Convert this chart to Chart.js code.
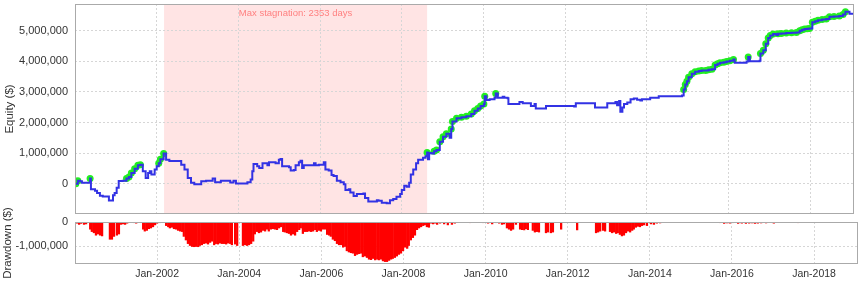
<!DOCTYPE html>
<html lang="en">
<head>
<meta charset="UTF-8">
<title>Equity and Drawdown</title>
<style>
  body { margin: 0; background: #fff; }
  #wrap { position: relative; width: 858px; height: 285px; }
  #equityChart { position: absolute; left: 0; top: 0; }
  #ddChart { position: absolute; left: 0; top: 200px; }
</style>
</head>
<body>
<div id="wrap">
  <canvas id="equityChart" width="858" height="218"></canvas>
  <canvas id="ddChart" width="858" height="85"></canvas>
</div>

<script src="https://cdn.jsdelivr.net/npm/chart.js"></script>
<script>
  // equity curve (decimal years, dollars)
  const eqYears = [
    2000.02, 2000.07, 2000.12, 2000.17, 2000.29, 2000.37, 2000.39, 2000.49, 2000.54, 2000.61,
    2000.68, 2000.80, 2000.83, 2000.92, 2000.93, 2000.97, 2001.02, 2001.07, 2001.17, 2001.26,
    2001.32, 2001.38, 2001.46, 2001.54, 2001.60, 2001.66, 2001.73, 2001.79, 2001.83, 2001.87,
    2001.95, 2002.00, 2002.05, 2002.09, 2002.17, 2002.23, 2002.31, 2002.48, 2002.60, 2002.68,
    2002.76, 2002.84, 2002.92, 2003.00, 2003.09, 2003.21, 2003.37, 2003.43, 2003.57, 2003.73,
    2003.80, 2003.88, 2003.94, 2004.14, 2004.22, 2004.30, 2004.34, 2004.37, 2004.46, 2004.51,
    2004.59, 2004.71, 2004.75, 2004.87, 2004.91, 2004.99, 2005.03, 2005.07, 2005.24, 2005.28,
    2005.36, 2005.40, 2005.48, 2005.52, 2005.56, 2005.60, 2005.80, 2005.85, 2005.89, 2005.97,
    2006.09, 2006.13, 2006.21, 2006.28, 2006.33, 2006.41, 2006.50, 2006.58, 2006.62, 2006.70,
    2006.74, 2006.82, 2006.90, 2007.06, 2007.10, 2007.18, 2007.31, 2007.39, 2007.43, 2007.51,
    2007.63, 2007.71, 2007.79, 2007.87, 2007.96, 2008.00, 2008.06, 2008.12, 2008.18, 2008.22,
    2008.28, 2008.35, 2008.40, 2008.52, 2008.58, 2008.62, 2008.64, 2008.67, 2008.73, 2008.79,
    2008.85, 2008.93, 2009.01, 2009.09, 2009.17, 2009.21, 2009.24, 2009.34, 2009.46, 2009.58,
    2009.70, 2009.78, 2009.86, 2009.93, 2010.01, 2010.03, 2010.07, 2010.15, 2010.27, 2010.30,
    2010.35, 2010.47, 2010.51, 2010.59, 2010.61, 2010.84, 2010.88, 2010.96, 2011.08, 2011.16,
    2011.25, 2011.28, 2011.49, 2011.53, 2012.22, 2012.26, 2012.71, 2012.73, 2012.99, 2013.03,
    2013.19, 2013.23, 2013.27, 2013.32, 2013.35, 2013.40, 2013.44, 2013.52, 2013.60, 2013.68,
    2013.76, 2013.84, 2013.88, 2014.08, 2014.29, 2014.86, 2014.90, 2014.94, 2014.98, 2015.02,
    2015.10, 2015.18, 2015.27, 2015.34, 2015.44, 2015.51, 2015.59, 2015.67, 2015.73, 2015.79,
    2015.88, 2015.95, 2016.03, 2016.12, 2016.15, 2016.44, 2016.48, 2016.52, 2016.76, 2016.78,
    2016.85, 2016.91, 2016.97, 2017.02, 2017.09, 2017.17, 2017.21, 2017.29, 2017.41, 2017.54,
    2017.66, 2017.74, 2017.80, 2017.86, 2017.93, 2017.98, 2018.05, 2018.12, 2018.19, 2018.29,
    2018.39, 2018.47, 2018.58, 2018.71, 2018.80, 2018.86, 2018.96, 2019.04
  ];
  const eqValues = [
    0, 100000, 80000, 30000, 30000, 170000, -180000, -230000, -300000, -390000,
    -420000, -420000, -550000, -550000, -380000, -300000, -130000, 90000, 100000, 170000,
    220000, 350000, 490000, 600000, 620000, 410000, 190000, 350000, 410000, 300000,
    460000, 570000, 670000, 800000, 990000, 780000, 740000, 740000, 620000, 460000,
    190000, 30000, -20000, -20000, 80000, 100000, 170000, 50000, 100000, 100000,
    40000, 100000, 10000, 10000, 50000, 140000, 410000, 640000, 570000, 510000,
    670000, 600000, 700000, 700000, 670000, 780000, 810000, 570000, 540000, 430000,
    450000, 600000, 700000, 750000, 510000, 600000, 600000, 670000, 600000, 620000,
    700000, 460000, 430000, 280000, 250000, 100000, 50000, -20000, -210000, -180000,
    -290000, -400000, -340000, -320000, -470000, -580000, -580000, -540000, -560000, -620000,
    -640000, -540000, -500000, -430000, -340000, -210000, -70000, -100000, 30000, 300000,
    460000, 670000, 780000, 850000, 900000, 1020000, 800000, 1000000, 990000, 1060000,
    1100000, 1370000, 1530000, 1630000, 1500000, 1790000, 2030000, 2140000, 2170000, 2200000,
    2280000, 2380000, 2460000, 2540000, 2600000, 2860000, 2730000, 2760000, 2810000, 2950000,
    2810000, 2840000, 2810000, 2790000, 2600000, 2600000, 2670000, 2630000, 2630000, 2540000,
    2600000, 2460000, 2460000, 2540000, 2520000, 2630000, 2630000, 2490000, 2490000, 2630000,
    2630000, 2670000, 2560000, 2700000, 2350000, 2490000, 2600000, 2650000, 2760000, 2780000,
    2740000, 2720000, 2760000, 2810000, 2860000, 2880000, 3080000, 3240000, 3350000, 3480000,
    3590000, 3660000, 3680000, 3700000, 3700000, 3720000, 3740000, 3880000, 3920000, 3950000,
    3970000, 3990000, 4020000, 4060000, 3950000, 3990000, 4140000, 4000000, 4020000, 4250000,
    4360000, 4570000, 4760000, 4840000, 4890000, 4860000, 4900000, 4910000, 4920000, 4930000,
    4940000, 5000000, 5030000, 5050000, 5060000, 5070000, 5270000, 5310000, 5340000, 5360000,
    5380000, 5450000, 5460000, 5480000, 5530000, 5620000, 5550000, 5580000
  ];

  // drawdown bars (decimal years, dollars)
  const ddYears = [
    2000.05, 2000.10, 2000.15, 2000.22, 2000.27, 2000.37, 2000.41, 2000.46, 2000.51, 2000.56,
    2000.61, 2000.66, 2000.85, 2000.90, 2000.95, 2001.02, 2001.07, 2001.12, 2001.17, 2001.22,
    2001.27, 2001.44, 2001.49, 2001.66, 2001.70, 2001.75, 2001.80, 2001.85, 2001.90, 2001.95,
    2002.00, 2002.07, 2002.12, 2002.22, 2002.27, 2002.31, 2002.36, 2002.41, 2002.46, 2002.51,
    2002.56, 2002.61, 2002.65, 2002.70, 2002.75, 2002.80, 2002.85, 2002.90, 2002.95, 2003.00,
    2003.04, 2003.09, 2003.14, 2003.19, 2003.24, 2003.29, 2003.34, 2003.39, 2003.43, 2003.48,
    2003.53, 2003.58, 2003.63, 2003.68, 2003.73, 2003.78, 2003.82, 2003.90, 2003.95, 2004.09,
    2004.14, 2004.19, 2004.24, 2004.29, 2004.34, 2004.38, 2004.43, 2004.48, 2004.53, 2004.58,
    2004.63, 2004.68, 2004.72, 2004.77, 2004.82, 2004.87, 2004.92, 2004.97, 2005.02, 2005.07,
    2005.11, 2005.16, 2005.21, 2005.26, 2005.31, 2005.36, 2005.41, 2005.46, 2005.50, 2005.55,
    2005.60, 2005.65, 2005.70, 2005.75, 2005.80, 2005.85, 2005.89, 2005.94, 2005.99, 2006.04,
    2006.09, 2006.14, 2006.19, 2006.23, 2006.28, 2006.33, 2006.38, 2006.43, 2006.48, 2006.53,
    2006.58, 2006.62, 2006.67, 2006.72, 2006.77, 2006.82, 2006.87, 2006.92, 2006.97, 2007.01,
    2007.06, 2007.11, 2007.16, 2007.21, 2007.26, 2007.31, 2007.36, 2007.40, 2007.45, 2007.50,
    2007.55, 2007.60, 2007.65, 2007.70, 2007.74, 2007.79, 2007.84, 2007.89, 2007.94, 2007.99,
    2008.04, 2008.09, 2008.13, 2008.18, 2008.23, 2008.28, 2008.33, 2008.38, 2008.43, 2008.48,
    2008.52, 2008.57, 2008.62, 2008.67, 2008.72, 2008.77, 2008.82, 2008.89, 2008.99, 2009.08,
    2009.18, 2009.25, 2009.43, 2009.62, 2009.79, 2009.94, 2010.06, 2010.16, 2010.25, 2010.33,
    2010.40, 2010.45, 2010.52, 2010.57, 2010.62, 2010.67, 2010.74, 2010.84, 2010.89, 2010.94,
    2010.98, 2011.03, 2011.15, 2011.20, 2011.25, 2011.30, 2011.47, 2011.52, 2011.59, 2011.64,
    2011.84, 2012.23, 2012.69, 2012.74, 2012.79, 2012.86, 2012.91, 2013.03, 2013.08, 2013.13,
    2013.18, 2013.22, 2013.27, 2013.32, 2013.37, 2013.42, 2013.47, 2013.52, 2013.57, 2013.61,
    2013.66, 2013.71, 2013.76, 2013.81, 2013.86, 2013.93, 2014.03, 2014.10, 2014.17, 2014.25,
    2014.52, 2014.98, 2015.71, 2015.81, 2015.88, 2015.95, 2016.03, 2016.15, 2016.24, 2016.34,
    2016.42, 2016.49, 2016.56, 2016.63, 2016.71, 2016.83, 2017.02, 2017.14, 2017.61, 2017.90
  ];
  const ddValues = [
    -50000, -100000, -60000, -100000, -80000, -300000, -400000, -450000, -550000, -500000,
    -550000, -580000, -720000, -720000, -600000, -550000, -500000, -100000, -80000, -100000,
    -50000, -30000, -50000, -300000, -380000, -350000, -280000, -250000, -200000, -120000,
    -50000, -30000, -20000, -150000, -200000, -250000, -220000, -280000, -300000, -350000,
    -380000, -400000, -600000, -750000, -900000, -980000, -1020000, -1030000, -1020000, -1030000,
    -980000, -950000, -900000, -880000, -920000, -850000, -800000, -950000, -900000, -920000,
    -880000, -900000, -900000, -920000, -880000, -900000, -950000, -920000, -980000, -980000,
    -950000, -980000, -950000, -900000, -800000, -500000, -400000, -450000, -420000, -350000,
    -380000, -300000, -380000, -300000, -280000, -300000, -320000, -250000, -200000, -400000,
    -420000, -450000, -480000, -550000, -500000, -550000, -400000, -320000, -250000, -480000,
    -400000, -400000, -380000, -400000, -380000, -320000, -400000, -350000, -380000, -300000,
    -300000, -520000, -550000, -600000, -720000, -780000, -900000, -950000, -950000, -1050000,
    -1020000, -1200000, -1250000, -1280000, -1300000, -1400000, -1350000, -1320000, -1300000, -1450000,
    -1420000, -1480000, -1550000, -1570000, -1520000, -1580000, -1550000, -1580000, -1550000, -1620000,
    -1650000, -1650000, -1600000, -1550000, -1520000, -1480000, -1420000, -1350000, -1300000, -1200000,
    -1050000, -1100000, -980000, -750000, -650000, -550000, -320000, -250000, -200000, -150000,
    -120000, -200000, -220000, -50000, -80000, -50000, -100000, -50000, -80000, -120000,
    -100000, -50000, -20000, -30000, -20000, -30000, -50000, -80000, -30000, -50000,
    -100000, -80000, -250000, -300000, -350000, -300000, -100000, -300000, -320000, -330000,
    -280000, -320000, -350000, -420000, -400000, -420000, -450000, -420000, -450000, -420000,
    -300000, -330000, -450000, -420000, -380000, -350000, -380000, -400000, -450000, -420000,
    -480000, -450000, -520000, -580000, -550000, -450000, -380000, -420000, -350000, -300000,
    -220000, -180000, -200000, -150000, -120000, -150000, -80000, -100000, -50000, -40000,
    -20000, -20000, -30000, -60000, -40000, -50000, -30000, -60000, -50000, -60000,
    -50000, -40000, -60000, -50000, -40000, -40000, -50000, -20000, -30000, -20000
  ];

  const yearTicks = [2002, 2004, 2006, 2008, 2010, 2012, 2014, 2016, 2018];
  const equityTicks = [0, 1000000, 2000000, 3000000, 4000000, 5000000];
  const ddTicks = [0, -1000000];

  const stagnationStart = 2002.18;
  const stagnationEnd = 2008.62;
  const stagnationDays = 2353;

  Chart.defaults.font.family = '"Liberation Sans", Arial, sans-serif';
  Chart.defaults.color = '#333';
  Chart.defaults.animation = false;

  const eqPoints = eqYears.map((x, i) => ({ x: x, y: eqValues[i] }));

  // new equity highs get the green markers
  let best = -Infinity;
  const highPoints = [];
  eqPoints.forEach(p => {
    if (p.y >= best) { best = p.y; highPoints.push(p); }
  });

  const ddPoints = ddYears.map((x, i) => ({ x: x, y: ddValues[i] }));

  const fmt = v => v.toLocaleString('en-US');

  // keep chart areas where we put them, no room reserved for edge labels
  const noEdgePad = s => {
    s.paddingTop = 0; s.paddingBottom = 0; s.paddingLeft = 0; s.paddingRight = 0;
  };

  const frame = {
    id: 'frame',
    afterDraw(chart) {
      const { ctx, chartArea: a } = chart;
      ctx.save();
      ctx.strokeStyle = '#aaaaaa';
      ctx.lineWidth = 1;
      ctx.strokeRect(a.left + 0.5, a.top + 0.5, a.right - a.left - 1, a.bottom - a.top - 1);
      ctx.restore();
    }
  };

  const stagnationBand = {
    id: 'stagnationBand',
    beforeDraw(chart) {
      const { ctx, chartArea: a, scales: { x } } = chart;
      const x0 = x.getPixelForValue(stagnationStart);
      const x1 = x.getPixelForValue(stagnationEnd);
      ctx.save();
      ctx.fillStyle = '#ffe4e4';
      ctx.fillRect(x0, a.top, x1 - x0, a.bottom - a.top);
      ctx.fillStyle = '#ff8080';
      ctx.font = '9.5px "Liberation Sans", Arial, sans-serif';
      ctx.textAlign = 'center';
      ctx.textBaseline = 'middle';
      ctx.fillText('Max stagnation: ' + stagnationDays + ' days', (x0 + x1) / 2, a.top + 9);
      ctx.restore();
    }
  };

  const xAxis = (showLabels) => ({
    type: 'linear',
    min: 2000,
    max: 2019.07,
    offset: false,
    afterBuildTicks: s => { s.ticks = yearTicks.map(v => ({ value: v })); },
    afterFit: s => { s.height = showLabels ? 21 : 0; noEdgePad(s); },
    border: { display: false, dash: [2, 2] },
    grid: { color: '#d6d6d6', drawTicks: false, offset: false },
    ticks: {
      display: showLabels,
      maxRotation: 0,
      padding: 4,
      font: { size: 10.5 },
      callback: v => 'Jan-' + v
    }
  });

  new Chart(document.getElementById('equityChart'), {
    type: 'line',
    data: {
      datasets: [
        {
          data: eqPoints,
          borderColor: '#3232e4',
          borderWidth: 2,
          pointRadius: 0,
          stepped: true,
          fill: false
        },
        {
          data: highPoints,
          showLine: false,
          pointRadius: 3.5,
          pointBackgroundColor: '#22ee22',
          pointBorderColor: '#22ee22',
          pointBorderWidth: 0
        }
      ]
    },
    options: {
      responsive: false,
      layout: { padding: { top: 3, right: 0, bottom: 1, left: 0 } },
      plugins: { legend: { display: false }, tooltip: { enabled: false } },
      scales: {
        x: xAxis(false),
        y: {
          min: -990000,
          max: 5870000,
          afterBuildTicks: s => { s.ticks = equityTicks.map(v => ({ value: v })); },
          afterFit: s => { s.width = 75; noEdgePad(s); },
          border: { display: false, dash: [2, 2] },
          grid: { color: '#d6d6d6', drawTicks: false },
          ticks: { padding: 7, font: { size: 11 }, callback: fmt },
          title: { display: true, text: 'Equity ($)', font: { size: 11.5 }, padding: { top: 3, bottom: 0 } }
        }
      }
    },
    plugins: [stagnationBand, frame]
  });

  new Chart(document.getElementById('ddChart'), {
    type: 'bar',
    data: {
      datasets: [{
        data: ddPoints,
        backgroundColor: '#ff0000',
        borderWidth: 0,
        barThickness: 1.6
      }]
    },
    options: {
      responsive: false,
      layout: { padding: { top: 22, right: 0, bottom: 0, left: 0 } },
      plugins: { legend: { display: false }, tooltip: { enabled: false } },
      scales: {
        x: xAxis(true),
        y: {
          min: -1750000,
          max: 0,
          afterBuildTicks: s => { s.ticks = ddTicks.map(v => ({ value: v })); },
          afterFit: s => { s.width = 75; noEdgePad(s); },
          border: { display: false, dash: [2, 2] },
          grid: { color: '#d6d6d6', drawTicks: false },
          ticks: { padding: 7, font: { size: 11 }, callback: fmt },
          title: { display: true, text: 'Drawdown ($)', font: { size: 11.5 }, padding: { top: 1, bottom: 0 } }
        }
      }
    },
    plugins: [frame]
  });
</script>
</body>
</html>
